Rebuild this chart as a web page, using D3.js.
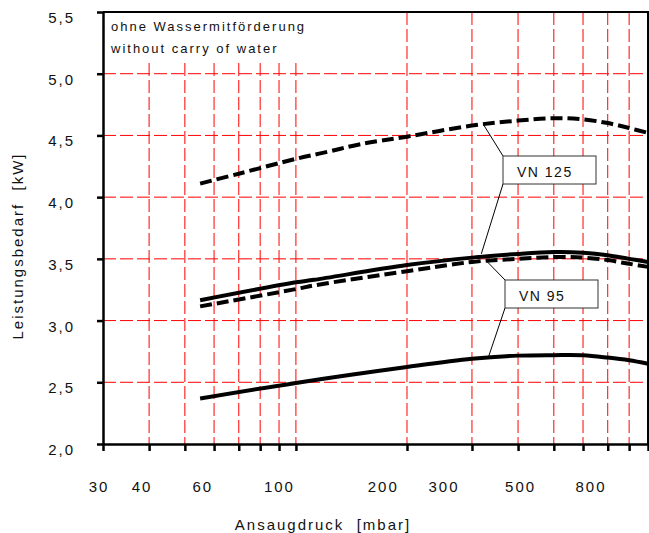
<!DOCTYPE html>
<html lang="de">
<head>
<meta charset="UTF-8">
<title>Leistungsbedarf VN 95 / VN 125</title>
<script src="https://cdn.jsdelivr.net/npm/d3@7"></script>
<style>
  body { margin: 0; background: #fff; }
  svg text { font-family: "Liberation Sans", Arial, sans-serif; fill: #111; letter-spacing: 2px; white-space: pre; }
</style>
</head>
<body>
<script>
// suction pressure [mbar] and power demand [kW]
const vn125DashedP = [55, 70, 100, 123, 150, 200, 300, 400, 500, 600, 700, 800, 900];
const vn125DashedKW = [4.11, 4.19, 4.31, 4.37, 4.43, 4.49, 4.58, 4.62, 4.64, 4.63, 4.60, 4.56, 4.52];
const vn125SolidP = [55, 100, 112, 200, 300, 400, 500, 600, 700, 800, 900];
const vn125SolidKW = [3.165, 3.31, 3.33, 3.45, 3.51, 3.54, 3.555, 3.55, 3.53, 3.50, 3.475];
const vn95DashedP = [55, 100, 112, 200, 300, 400, 500, 600, 700, 800, 900];
const vn95DashedKW = [3.115, 3.255, 3.285, 3.40, 3.475, 3.50, 3.515, 3.51, 3.49, 3.46, 3.435];
const vn95SolidP = [55, 100, 200, 300, 400, 500, 600, 700, 800, 900];
const vn95SolidKW = [2.368, 2.495, 2.624, 2.69, 2.716, 2.72, 2.719, 2.70, 2.678, 2.65];

const yTicks = [2.0, 2.5, 3.0, 3.5, 4.0, 4.5, 5.0, 5.5];
const xTicks = [30, 40, 50, 60, 70, 80, 90, 100, 200, 300, 400, 500, 600, 700, 800, 900];
const xGrid = [40, 50, 60, 70, 80, 90, 100, 200, 300, 400, 500, 600, 700, 800];
const xLabels = [30, 40, 60, 100, 200, 300, 500, 800];

const W = 649, H = 533;
const pL = 103, pR = 648, pT = 12, pB = 444;

const svg = d3.select("body").append("svg").attr("width", W).attr("height", H);

const x = d3.scaleLog().domain([30, 900]).range([pL, pR]);
// the printed numbers sit on a slightly different spacing than the ticks
const xLab = d3.scaleLog().domain([30, 800]).range([98, 590]);
const y = d3.scaleLinear().domain([2, 5.5]).range([pB, pT]);

// grid
const grid = svg.append("g").attr("stroke", "#ff0000").attr("stroke-width", 1)
  .attr("stroke-dasharray", "13,4").attr("fill", "none");
grid.selectAll("line.h").data(yTicks.filter(d => d > 2 && d < 5.5)).join("line")
  .attr("class", "h")
  .attr("x1", pL).attr("x2", pR).attr("y1", d => y(d)).attr("y2", d => y(d));
grid.selectAll("line.v").data(xGrid).join("line")
  .attr("class", "v")
  .attr("x1", d => x(d)).attr("x2", d => x(d)).attr("y1", pT).attr("y2", pB);

// note box in the upper left
svg.append("rect").attr("x", pL + 1).attr("y", pT).attr("width", 249).attr("height", 51).attr("fill", "#fff");
svg.append("text").attr("x", 111).attr("y", 31).style("font-size", "13px").text("ohne Wassermitförderung");
svg.append("text").attr("x", 111).attr("y", 53).style("font-size", "13px").text("without carry of water");

// frame top / right
svg.append("path").attr("d", `M${pL},${pT}H${pR}V${pB}`)
  .attr("fill", "none").attr("stroke", "#000").attr("stroke-width", 2);

// curves
const line = d3.line().x(d => x(d[0])).y(d => y(d[1])).curve(d3.curveCatmullRom.alpha(0.5));
const series = [
  { p: vn125DashedP, v: vn125DashedKW, dash: "12,5" },
  { p: vn125SolidP, v: vn125SolidKW, dash: null },
  { p: vn95DashedP, v: vn95DashedKW, dash: "12,5" },
  { p: vn95SolidP, v: vn95SolidKW, dash: null }
];
svg.selectAll("path.curve").data(series).join("path")
  .attr("class", "curve")
  .attr("d", s => line(d3.zip(s.p, s.v)))
  .attr("fill", "none").attr("stroke", "#000").attr("stroke-width", 4)
  .attr("stroke-dasharray", s => s.dash);

// axes
const yAxis = svg.append("g").attr("transform", `translate(${pL},0)`)
  .call(d3.axisLeft(y).tickValues(yTicks).tickSize(6).tickSizeOuter(0).tickPadding(22)
    .tickFormat(d => d3.format(".1f")(d).replace(".", ",")));
const xAxis = svg.append("g").attr("transform", `translate(0,${pB})`)
  .call(d3.axisBottom(x).tickValues(xTicks).tickSize(7).tickSizeOuter(0).tickFormat(""));
[yAxis, xAxis].forEach(a => {
  a.select(".domain").attr("stroke", "#000").attr("stroke-width", 2.5);
  a.selectAll(".tick line").attr("stroke", "#000").attr("stroke-width", 2.5);
});
yAxis.selectAll(".tick text").attr("dy", "0.7em").style("font-size", "15px").attr("fill", "#111");

svg.append("g").selectAll("text").data(xLabels).join("text")
  .attr("x", d => xLab(d) + 1).attr("y", 492).attr("text-anchor", "middle")
  .style("font-size", "15px").text(d => d);

// axis titles
svg.append("text").attr("x", 323).attr("y", 530).attr("text-anchor", "middle")
  .style("font-size", "15px").text("Ansaugdruck  [mbar]");
svg.append("text").attr("transform", "translate(23,246) rotate(-90)").attr("text-anchor", "middle")
  .style("font-size", "15px").text("Leistungsbedarf  [kW]");

// labels with leader lines
const labels = [
  { text: "VN 125", bx: 503, by: 156, up: [322, 4.59], down: [318, 3.54] },
  { text: "VN 95", bx: 505, by: 280, up: [328, 3.485], down: [333, 2.71] }
];
const lab = svg.append("g").selectAll("g").data(labels).join("g");
lab.append("line").attr("x1", d => d.bx).attr("y1", d => d.by)
  .attr("x2", d => x(d.up[0])).attr("y2", d => y(d.up[1]))
  .attr("stroke", "#000").attr("stroke-width", 1);
lab.append("line").attr("x1", d => d.bx).attr("y1", d => d.by + 28)
  .attr("x2", d => x(d.down[0])).attr("y2", d => y(d.down[1]))
  .attr("stroke", "#000").attr("stroke-width", 1);
lab.append("rect").attr("x", d => d.bx).attr("y", d => d.by).attr("width", 93).attr("height", 28)
  .attr("fill", "#fff").attr("stroke", "#333").attr("stroke-width", 1);
lab.append("text").attr("x", d => d.bx + 14).attr("y", d => d.by + 21)
  .style("font-size", "14px").style("letter-spacing", "1.5px").text(d => d.text);
</script>
</body>
</html>
